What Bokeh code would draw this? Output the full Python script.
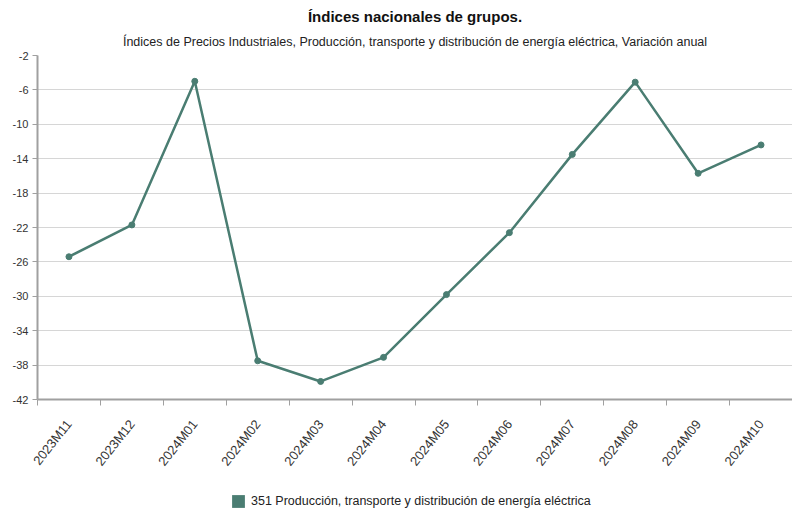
import numpy as np
from bokeh.plotting import figure
from bokeh.layouts import column
from bokeh.models import (Title, Legend, LegendItem, FixedTicker, Range1d,
                          ColumnDataSource, PrintfTickFormatter)
from bokeh.embed import file_html
from bokeh.resources import INLINE

# ---- data ----
periods = ["2023M11", "2023M12", "2024M01", "2024M02", "2024M03", "2024M04",
           "2024M05", "2024M06", "2024M07", "2024M08", "2024M09", "2024M10"]
values = [-25.4, -21.7, -5.0, -37.5, -39.9, -37.1,
          -29.8, -22.6, -13.5, -5.1, -15.7, -12.4]
y_ticks = [-2, -6, -10, -14, -18, -22, -26, -30, -34, -38, -42]
series_name = "351 Producción, transporte y distribución de energía eléctrica"
title_text = "Índices nacionales de grupos."
subtitle_text = ("Índices de Precios Industriales, Producción, transporte y "
                 "distribución de energía eléctrica, Variación anual")

LINE_COLOR = "#4a7d72"
FONT = "Liberation Sans"

xpos = np.arange(len(periods)) + 0.5
src = ColumnDataSource(dict(x=xpos, y=values, period=periods))

p = figure(frame_width=755, frame_height=344,
           x_range=Range1d(0, len(periods)), y_range=Range1d(-42, -2),
           output_backend="svg", toolbar_location=None,
           min_border_left=37, min_border_right=0, min_border_top=55,
           min_border_bottom=86, title=None)
p.outline_line_color = None

p.line("x", "y", source=src, line_color=LINE_COLOR, line_width=2.5)
p.scatter("x", "y", source=src, size=6, fill_color=LINE_COLOR,
          line_color=LINE_COLOR)

# titles (added first = closest to plot)
p.add_layout(Title(text=subtitle_text, align="center", text_font=FONT,
                   text_font_size="12.5px", text_font_style="normal",
                   text_color="#222222", standoff=14), "above")
p.add_layout(Title(text=title_text, align="center", text_font=FONT,
                   text_font_size="15px", text_font_style="bold",
                   text_color="#111111", standoff=0,
                   vertical_align="middle"), "above")

# y axis
p.yaxis.ticker = FixedTicker(ticks=y_ticks)
p.yaxis.formatter = PrintfTickFormatter(format="%d")
p.yaxis.major_label_text_font = FONT
p.yaxis.major_label_text_font_size = "11px"
p.yaxis.major_label_text_color = "#333333"
p.yaxis.axis_line_color = "#a0a0a0"
p.yaxis.axis_line_width = 2
p.yaxis.major_tick_line_color = "#a0a0a0"
p.yaxis.major_tick_out = 5
p.yaxis.major_tick_in = 0
p.yaxis.minor_tick_line_color = None
p.yaxis.major_label_standoff = 4

# x axis
boundaries = list(np.arange(len(periods) + 1))
p.xaxis.ticker = FixedTicker(ticks=list(xpos), minor_ticks=boundaries)
p.xaxis.major_label_overrides = {float(x): lab for x, lab in zip(xpos, periods)}
p.xaxis.major_label_orientation = 0.9
p.xaxis.major_label_text_font = FONT
p.xaxis.major_label_text_font_size = "13px"
p.xaxis.major_label_text_color = "#333333"
p.xaxis.axis_line_color = "#a0a0a0"
p.xaxis.axis_line_width = 2
p.xaxis.major_tick_line_color = None
p.xaxis.minor_tick_line_color = "#a0a0a0"
p.xaxis.minor_tick_out = 6
p.xaxis.minor_tick_in = 0
p.xaxis.major_label_standoff = 16

p.xgrid.grid_line_color = None
p.ygrid.grid_line_color = "#d6d6d6"
p.ygrid.grid_line_width = 1

# ---- legend strip (separate small figure) ----
p2 = figure(width=792, height=24, x_range=Range1d(0, len(periods)),
            y_range=Range1d(1, 2), output_backend="svg",
            toolbar_location=None, x_axis_location=None,
            y_axis_location=None, min_border=0, title=None)
p2.outline_line_color = None
p2.grid.grid_line_color = None
leg_r = p2.vbar(x="x", top="y", bottom=0, width=0.5, source=src,
                fill_color=LINE_COLOR, line_color=None)

legend = Legend(items=[LegendItem(label=series_name, renderers=[leg_r])],
                location=(193, 0), orientation="horizontal",
                label_text_font=FONT, label_text_font_size="12.5px",
                label_text_color="#222222", glyph_width=16, glyph_height=16,
                border_line_color=None, background_fill_alpha=0,
                padding=4, margin=0, label_standoff=5)
p2.add_layout(legend, "center")

layout = column(p, p2, spacing=0)
open("out.html", "w").write(file_html(layout, INLINE))
